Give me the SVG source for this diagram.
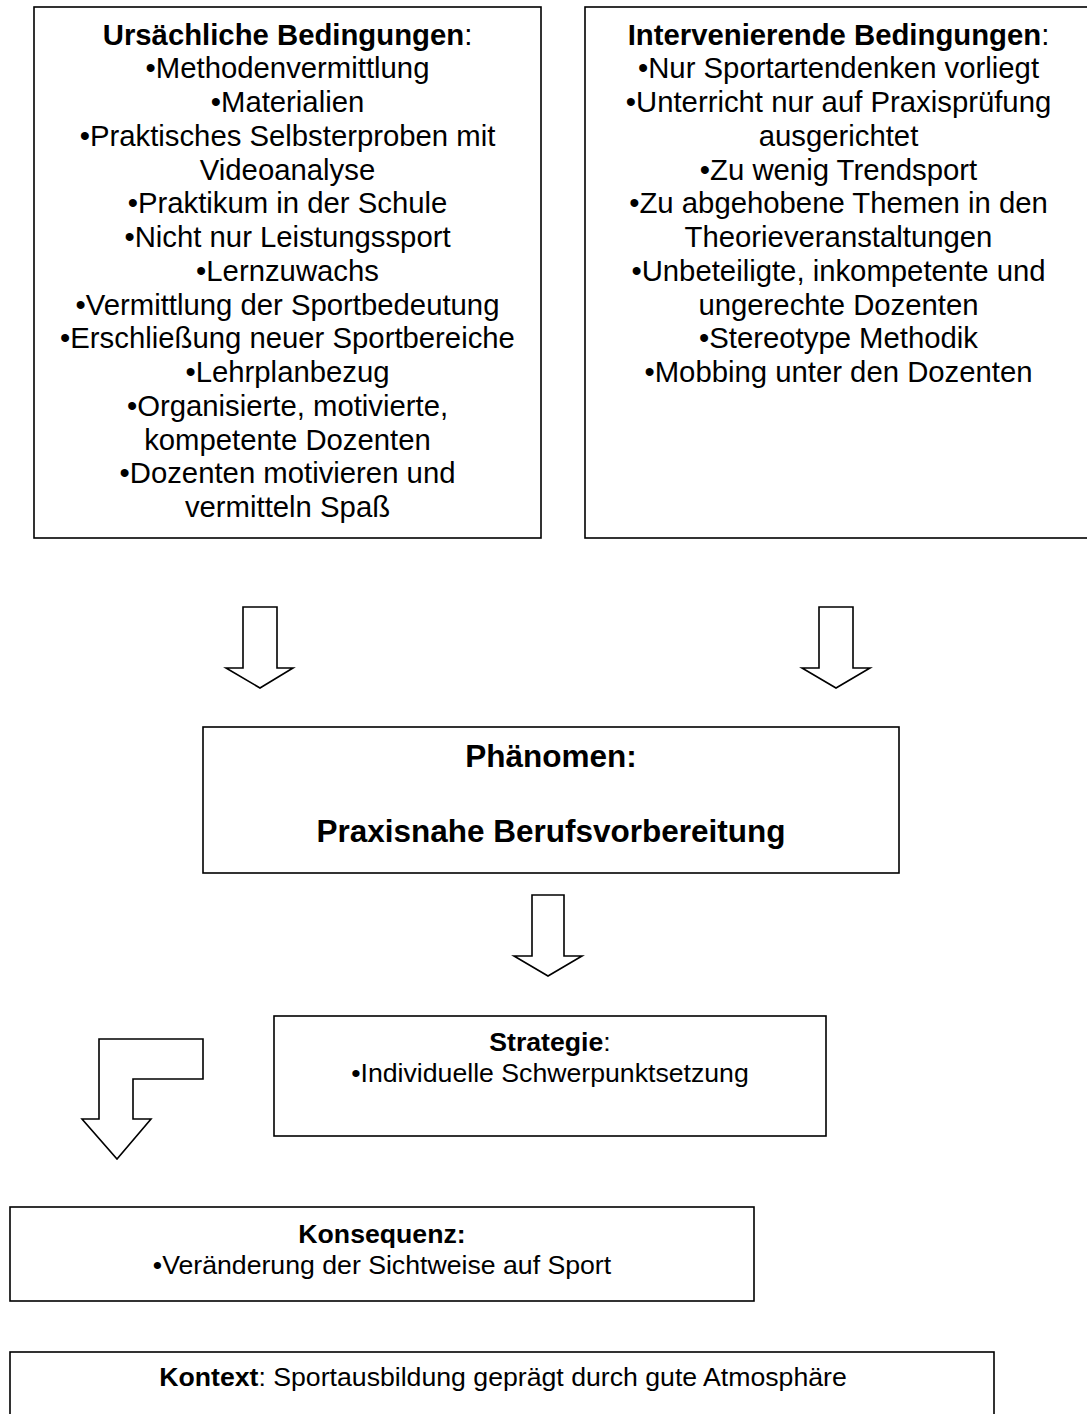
<svg xmlns="http://www.w3.org/2000/svg" width="1087" height="1414" viewBox="0 0 1087 1414">
  <style>
    .box { fill: #fff; stroke: #000; stroke-width: 1.6; }
    .arrow { fill: #fff; stroke: #000; stroke-width: 1.6; stroke-linejoin: miter; }
    text { font-family: "Liberation Sans", Arial, sans-serif; fill: #000; text-anchor: middle; }
    .l { font-size: 29.3px; }
    .m { font-size: 26.67px; }
    .h { font-size: 31.5px; font-weight: bold; }
    .b { font-weight: bold; }
  </style>
  <rect width="1087" height="1414" fill="#fff"/>

  <g id="connectors">
    <polygon class="arrow" points="243,607 277,607 277,668 293,668 260,688 226,668 243,668"/>
    <polygon class="arrow" points="819,607 853,607 853,668 870,668 836,688 802,668 819,668"/>
    <polygon class="arrow" points="532,895 564,895 564,956 582,956 548,976 514,956 532,956"/>
    <polygon class="arrow" points="99,1039 203,1039 203,1079 133,1079 133,1119 151,1119 117,1159 82,1119 99,1119"/>
  </g>

  <g id="ursaechliche-bedingungen">
    <rect class="box" x="34" y="7" width="507" height="531"/>
    <text class="l" x="287.5" y="44.5"><tspan class="b">Ursächliche Bedingungen</tspan>:</text>
    <text class="l" x="287.5" y="78.3">•Methodenvermittlung</text>
    <text class="l" x="287.5" y="112">•Materialien</text>
    <text class="l" x="287.5" y="145.8">•Praktisches Selbsterproben mit</text>
    <text class="l" x="287.5" y="179.5">Videoanalyse</text>
    <text class="l" x="287.5" y="213.3">•Praktikum in der Schule</text>
    <text class="l" x="287.5" y="247">•Nicht nur Leistungssport</text>
    <text class="l" x="287.5" y="280.8">•Lernzuwachs</text>
    <text class="l" x="287.5" y="314.5">•Vermittlung der Sportbedeutung</text>
    <text class="l" x="287.5" y="348.3">•Erschließung neuer Sportbereiche</text>
    <text class="l" x="287.5" y="382">•Lehrplanbezug</text>
    <text class="l" x="287.5" y="415.8">•Organisierte, motivierte,</text>
    <text class="l" x="287.5" y="449.5">kompetente Dozenten</text>
    <text class="l" x="287.5" y="483.3">•Dozenten motivieren und</text>
    <text class="l" x="287.5" y="517">vermitteln Spaß</text>
  </g>

  <g id="intervenierende-bedingungen">
    <rect class="box" x="585" y="7" width="507" height="531"/>
    <text class="l" x="838.5" y="44.5"><tspan class="b">Intervenierende Bedingungen</tspan>:</text>
    <text class="l" x="838.5" y="78.3">•Nur Sportartendenken vorliegt</text>
    <text class="l" x="838.5" y="112">•Unterricht nur auf Praxisprüfung</text>
    <text class="l" x="838.5" y="145.8">ausgerichtet</text>
    <text class="l" x="838.5" y="179.5">•Zu wenig Trendsport</text>
    <text class="l" x="838.5" y="213.3">•Zu abgehobene Themen in den</text>
    <text class="l" x="838.5" y="247">Theorieveranstaltungen</text>
    <text class="l" x="838.5" y="280.8">•Unbeteiligte, inkompetente und</text>
    <text class="l" x="838.5" y="314.5">ungerechte Dozenten</text>
    <text class="l" x="838.5" y="348.3">•Stereotype Methodik</text>
    <text class="l" x="838.5" y="382">•Mobbing unter den Dozenten</text>
  </g>

  <g id="phaenomen">
    <rect class="box" x="203" y="727" width="696" height="146"/>
    <text class="h" x="551" y="767">Phänomen:</text>
    <text class="h" x="551" y="842">Praxisnahe Berufsvorbereitung</text>
  </g>

  <g id="strategie">
    <rect class="box" x="274" y="1016" width="552" height="120"/>
    <text class="m" x="550" y="1051"><tspan class="b">Strategie</tspan>:</text>
    <text class="m" x="550" y="1082">•Individuelle Schwerpunktsetzung</text>
  </g>

  <g id="konsequenz">
    <rect class="box" x="10" y="1207" width="744" height="94"/>
    <text class="m b" x="382" y="1243">Konsequenz:</text>
    <text class="m" x="382" y="1274">•Veränderung der Sichtweise auf Sport</text>
  </g>

  <g id="kontext">
    <rect class="box" x="10" y="1352" width="984" height="80"/>
    <text class="m" x="503" y="1386"><tspan class="b">Kontext</tspan>: Sportausbildung geprägt durch gute Atmosphäre</text>
  </g>
</svg>
